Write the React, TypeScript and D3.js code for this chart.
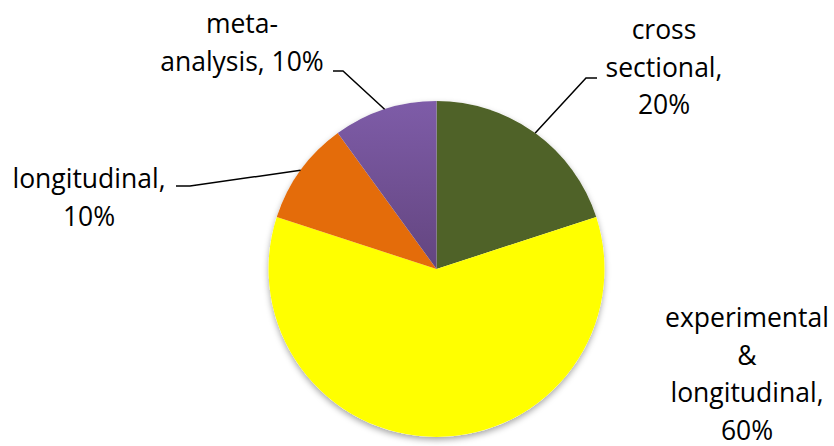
import * as d3 from "d3";

const categories = ["cross sectional", "experimental & longitudinal", "longitudinal", "meta-analysis"];
const values = [20, 60, 10, 10];
const colors = ["#4F6228", "#FFFF00", "#E46C0A", "#7A58A3"];
// label text lines, per slice
const labelLines = [
  ["cross", "sectional,", "20%"],
  ["experimental", "&", "longitudinal,", "60%"],
  ["longitudinal,", "10%"],
  ["meta-", "analysis, 10%"],
];
// layout: label block centre x, first line y, elbow of leader line (null = none)
const labelLayout = [
  { x: 664, y: 39, elbow: [586, 78], textEnd: [597, 78] },
  { x: 747, y: 327, elbow: null, textEnd: null },
  { x: 89, y: 188, elbow: [190, 186], textEnd: [176, 186] },
  { x: 242, y: 33, elbow: [343, 71], textEnd: [333, 71] },
];

const width = 834;
const height = 446;
const cx = 436.5;
const cy = 269;
const radius = 168;
const lineHeight = 37.5;

export default function App() {
  const pie = d3.pie<number>().sort(null).value((d) => d);
  const arcs = pie(values);
  const arc = d3.arc<d3.PieArcDatum<number>>().innerRadius(0).outerRadius(radius);

  return (
    <svg
      width={width}
      height={height}
      style={{ position: "absolute", left: 0, top: 0, background: "#fff" }}
      fontFamily="'Open Sans', sans-serif"
    >
      <defs>
        <filter id="shadow" x="-20%" y="-20%" width="140%" height="140%">
          <feDropShadow dx="0" dy="3" stdDeviation="3" floodColor="#000" floodOpacity="0.35" />
        </filter>
        <linearGradient id="purple" x1="0" y1="0" x2="0" y2="1">
          <stop offset="0%" stopColor="#7E5CA8" />
          <stop offset="100%" stopColor="#63457F" />
        </linearGradient>
      </defs>
      <g transform={`translate(${cx},${cy})`}>
        <circle r={radius} fill="#fff" filter="url(#shadow)" />
        {arcs.map((a, i) => (
          <path
            key={categories[i]}
            d={arc(a) as string}
            fill={i === 3 ? "url(#purple)" : colors[i]}
          />
        ))}
      </g>
      <g fill="none" stroke="#000" strokeWidth={1.5}>
        {arcs.map((a, i) => {
          const l = labelLayout[i];
          if (!l.elbow) return null;
          const mid = (a.startAngle + a.endAngle) / 2;
          const px = cx + Math.sin(mid) * radius;
          const py = cy - Math.cos(mid) * radius;
          const pts: [number, number][] = [
            [l.textEnd![0], l.textEnd![1]],
            [l.elbow[0], l.elbow[1]],
            [px, py],
          ];
          return <path key={i} d={d3.line()(pts) as string} />;
        })}
      </g>
      <g fontSize={26.5} fill="#000" textAnchor="middle">
        {labelLines.map((lines, i) => (
          <text key={i} x={labelLayout[i].x} y={labelLayout[i].y}>
            {lines.map((t, j) => (
              <tspan key={j} x={labelLayout[i].x} y={labelLayout[i].y + j * lineHeight}>
                {t}
              </tspan>
            ))}
          </text>
        ))}
      </g>
    </svg>
  );
}
